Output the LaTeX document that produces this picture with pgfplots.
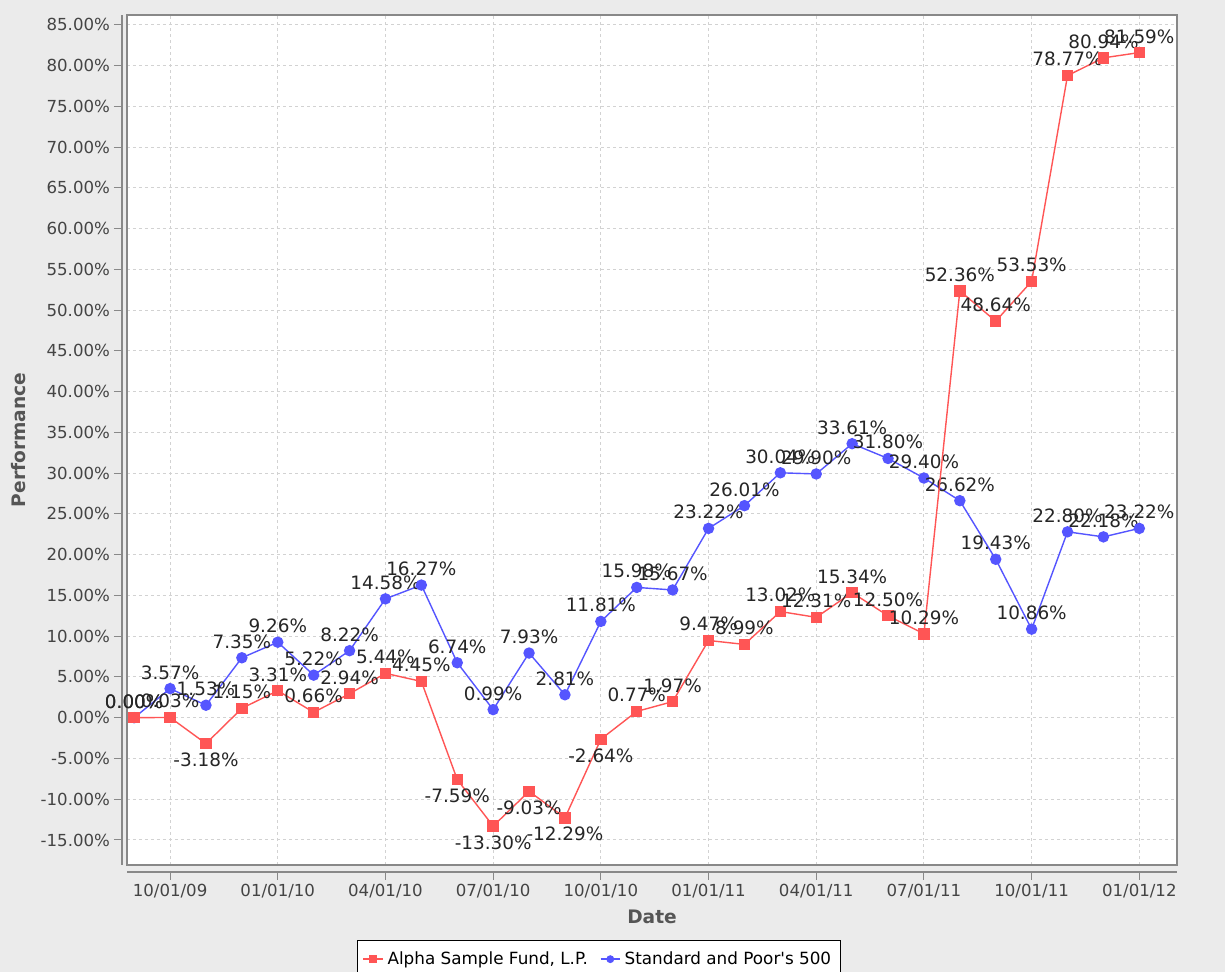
\documentclass[border=0pt]{standalone}
\usepackage{pgfplots}
\pgfplotsset{compat=1.18}
\usepackage{fontspec}
\setmainfont{DejaVu Sans}
\newfontfamily\legfont[Ligatures={}]{DejaVu Sans}
\definecolor{bg}{HTML}{EBEBEB}
\definecolor{serred}{HTML}{FF5555}
\definecolor{serblue}{HTML}{5555FF}
\definecolor{ticktxt}{HTML}{444444}
\definecolor{labtxt}{HTML}{555555}
\definecolor{frame}{HTML}{888888}

\pgfplotstableread{
i red blue
0 0.00 0.00
1 0.03 3.57
2 -3.18 1.53
3 1.15 7.35
4 3.31 9.26
5 0.66 5.22
6 2.94 8.22
7 5.44 14.58
8 4.45 16.27
9 -7.59 6.74
10 -13.30 0.99
11 -9.03 7.93
12 -12.29 2.81
13 -2.64 11.81
14 0.77 15.98
15 1.97 15.67
16 9.47 23.22
17 8.99 26.01
18 13.02 30.04
19 12.31 29.90
20 15.34 33.61
21 12.50 31.80
22 10.29 29.40
23 52.36 26.62
24 48.64 19.43
25 53.53 10.86
26 78.77 22.80
27 80.94 22.18
28 81.59 23.22
}\perf

\begin{document}
\begin{tikzpicture}
\fill[bg] (-63.5pt,-53.5pt) rectangle (549pt,432.5pt);
\begin{axis}[
  at={(0,0)}, anchor=south west,
  scale only axis,
  width=525pt, height=425pt,
  xmin=-0.2, xmax=29.05,
  ymin=-18.07, ymax=86.2,
  clip mode=individual,
  axis background/.style={fill=white},
  axis line style={draw=frame, line width=0.6pt},
  xtick={1,4,7,10,13,16,19,22,25,28},
  xticklabels={10/01/09,01/01/10,04/01/10,07/01/10,10/01/10,01/01/11,04/01/11,07/01/11,10/01/11,01/01/12},
  ytick={-15,-10,...,85},
  yticklabel={\pgfmathprintnumber[fixed,fixed zerofill,precision=2,assume math mode=true]{\tick}\%},
  tick label style={font=\fontsize{8.3}{10}\selectfont, text=ticktxt},
  yticklabel style={xshift=-1pt},
  xticklabel style={yshift=-2pt},
  tick align=outside,
  xtick pos=bottom, ytick pos=left,
  major tick length=4pt,
  xtick style={yshift=-3.5pt, draw=frame, line width=0.5pt},
  ytick style={xshift=-2.5pt, draw=frame, line width=0.5pt},
  xmajorgrids, ymajorgrids,
  grid style={dash pattern=on 1.5pt off 1.5pt, draw=gray!35, line width=0.5pt},
  xlabel={Date},
  ylabel={Performance},
  label style={font=\bfseries\fontsize{9.3}{11}\selectfont, text=labtxt},
  x label style={at={(axis description cs:0.5,0)}, anchor=center, yshift=-26pt},
  y label style={at={(axis description cs:-0.1029,0.5)}, anchor=center},
  legend style={at={(axis description cs:0.4495,-0.088)}, anchor=north,
    legend columns=2, draw=black, fill=white, line width=0.5pt,
    font=\legfont\fontsize{8.4}{10}\selectfont,
    /tikz/every even column/.append style={column sep=4pt},
    inner ysep=3.5pt, inner xsep=2.5pt},
  legend cell align=left,
  reverse legend,
  legend image code/.code={\draw[mark repeat=2,mark phase=2,mark size=1.6pt] plot coordinates {(0cm,0cm) (0.17cm,0cm) (0.34cm,0cm)};},
  nodes near coords={\pgfmathprintnumber[fixed,fixed zerofill,precision=2,assume math mode=true]{\pgfplotspointmeta}\%},
  nodes near coords align=vertical,
  every node near coord/.append style={font=\fontsize{9.2}{10}\selectfont, text=black!85, inner sep=4.3pt},
  point meta=y,
]
\addplot[color=serblue, line width=0.7pt, mark=*, mark size=2.5pt, mark options={fill=serblue, draw=serblue}] table[x=i,y=blue] {\perf};
\addlegendentry{Standard and Poor's 500}
\addplot[color=serred, line width=0.7pt, mark=square*, mark size=2.5pt, mark options={fill=serred, draw=serred}] table[x=i,y=red] {\perf};
\addlegendentry{Alpha Sample Fund, L.P.}
\end{axis}
\draw[frame, line width=0.7pt] (-2.5pt,0pt) -- (-2.5pt,425pt);
\draw[frame, line width=0.7pt] (0pt,-3.5pt) -- (525pt,-3.5pt);
\pgfresetboundingbox
\path[use as bounding box] (-63.5pt,-53.5pt) rectangle (549pt,432.5pt);
\end{tikzpicture}
\end{document}
